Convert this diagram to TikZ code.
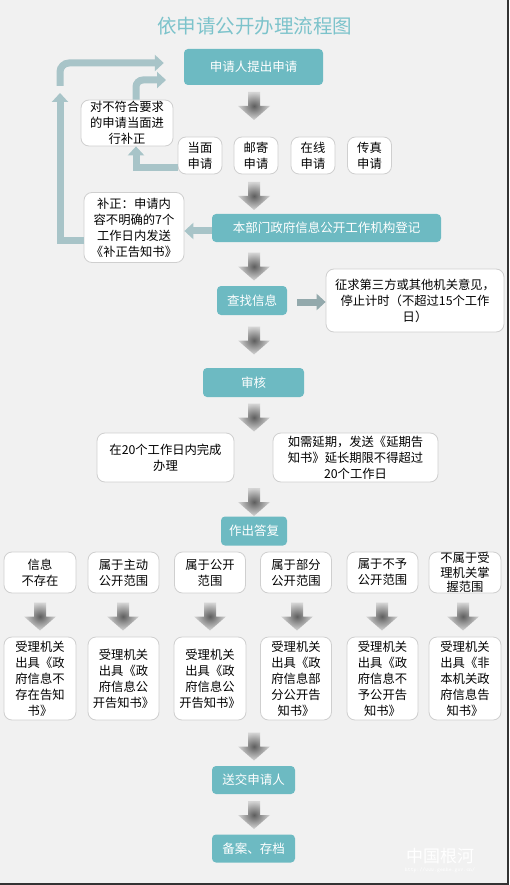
\documentclass[tikz,border=0pt]{standalone}
\usepackage{fontspec}
\setmainfont{Noto Sans CJK SC}
\usetikzlibrary{arrows.meta,calc}
\definecolor{bg}{HTML}{F1F1F1}
\definecolor{teal1}{HTML}{6DBAC2}
\definecolor{titlecol}{HTML}{7CC3CB}
\definecolor{loopcol}{HTML}{A8C4C8}
\definecolor{arrcol}{HTML}{93A9AC}
\definecolor{boxline}{HTML}{CFCFCF}
\definecolor{shdark}{HTML}{5E5E5E}
\definecolor{shlight}{HTML}{D6D6D6}
\tikzset{
  tealbox/.style={fill=teal1, rounded corners=4pt, text=white, font=\fontsize{12.5}{16}\selectfont, inner sep=0pt, align=center},
  whitebox/.style={fill=white, draw=boxline, line width=0.8pt, rounded corners=8pt, text=black, font=\fontsize{12.3}{16}\selectfont, inner sep=0pt, align=center},
  looparrow/.style={draw=loopcol, line width=7pt, -{Triangle[length=9pt,width=16pt]}},
  sidearrow/.style={draw=arrcol, line width=7pt, -{Triangle[length=9pt,width=16pt]}},
  downarr/.pic={\shade[inner color=shdark, outer color=shlight] (-6,-14) -- (6,-14) -- (6,0) -- (16,0) -- (0,14) -- (-16,0) -- (-6,0) -- cycle;}
}
\begin{document}
\begin{tikzpicture}[x=1pt,y=-1pt]
\useasboundingbox (0,0) rectangle (509,885);
\fill[bg] (0,0) rectangle (509,885);
\draw[black!80, line width=1.5pt] (508.2,0) -- (508.2,884.2) -- (0,884.2);

% title
\node[text=titlecol, font=\fontsize{19.5}{22}\selectfont] (title) at (254.5,26) {依申请公开办理流程图};

% main chain
\node[tealbox, minimum width=139pt, minimum height=36pt] (n1) at (253.5,67) {申请人提出申请};
\node[whitebox, minimum width=92pt, minimum height=46pt] (left1) at (127,123) {对不符合要求\\的申请当面进\\行补正};
\node[whitebox, minimum width=44pt, minimum height=37pt] (m1) at (200,155.5) {当面\\申请};
\node[whitebox, minimum width=44pt, minimum height=37pt] (m2) at (256,155.5) {邮寄\\申请};
\node[whitebox, minimum width=44pt, minimum height=37pt] (m3) at (313,155.5) {在线\\申请};
\node[whitebox, minimum width=44pt, minimum height=37pt] (m4) at (369.5,155.5) {传真\\申请};

\node[tealbox, minimum width=229pt, minimum height=28pt] (n2) at (326.5,228) {本部门政府信息公开工作机构登记};
\node[whitebox, minimum width=100pt, minimum height=70pt] (bz) at (134,227.5) {补正：申请内\\容不明确的7个\\工作日内发送\\《补正告知书》};

\node[tealbox, minimum width=70pt, minimum height=29pt] (n3) at (252,300.5) {查找信息};
\node[whitebox, minimum width=178pt, minimum height=63pt] (zq) at (415,300.5) {征求第三方或其他机关意见，\\停止计时（不超过15个工作\\日）};

\node[tealbox, minimum width=101pt, minimum height=29pt] (n4) at (253.5,382.5) {审核};
\node[whitebox, minimum width=137pt, minimum height=49pt] (b20) at (165.5,457.5) {在20个工作日内完成\\办理};
\node[whitebox, minimum width=165pt, minimum height=49pt] (bext) at (355.5,457.5) {如需延期，发送《延期告\\知书》延长期限不得超过\\20个工作日};

\node[tealbox, minimum width=66pt, minimum height=29pt] (n5) at (254,531) {作出答复};

% top row of categories
\node[whitebox, minimum width=72pt, minimum height=41pt] (c1) at (40,572.5) {信息\\不存在};
\node[whitebox, minimum width=71pt, minimum height=41pt] (c2) at (123.5,572.5) {属于主动\\公开范围};
\node[whitebox, minimum width=71pt, minimum height=41pt] (c3) at (210,572.5) {属于公开\\范围};
\node[whitebox, minimum width=71pt, minimum height=41pt] (c4) at (296,572.5) {属于部分\\公开范围};
\node[whitebox, minimum width=71pt, minimum height=41pt] (c5) at (382.5,572.5) {属于不予\\公开范围};
\node[whitebox, minimum width=72pt, minimum height=41pt, font=\fontsize{12.3}{14.5}\selectfont] (c6) at (465,572.5) {不属于受\\理机关掌\\握范围};

% bottom row of notices
\node[whitebox, minimum width=72pt, minimum height=83pt] (d1) at (40,678.5) {受理机关\\出具《政\\府信息不\\存在告知\\书》};
\node[whitebox, minimum width=71pt, minimum height=83pt] (d2) at (123.5,678.5) {受理机关\\出具《政\\府信息公\\开告知书》};
\node[whitebox, minimum width=72pt, minimum height=83pt] (d3) at (210,678.5) {受理机关\\出具《政\\府信息公\\开告知书》};
\node[whitebox, minimum width=71pt, minimum height=83pt] (d4) at (296,678.5) {受理机关\\出具《政\\府信息部\\分公开告\\知书》};
\node[whitebox, minimum width=71pt, minimum height=83pt] (d5) at (382.5,678.5) {受理机关\\出具《政\\府信息不\\予公开告\\知书》};
\node[whitebox, minimum width=72pt, minimum height=83pt] (d6) at (465,678.5) {受理机关\\出具《非\\本机关政\\府信息告\\知书》};

\node[tealbox, minimum width=83pt, minimum height=28pt] (n6) at (253.5,780) {送交申请人};
\node[tealbox, minimum width=83pt, minimum height=28pt] (n7) at (253.5,848.5) {备案、存档};

% gradient down arrows
\pic at (254,106) {downarr};
\pic at (254,196) {downarr};
\pic at (254,266.5) {downarr};
\pic at (254,340.5) {downarr};
\pic at (254,417.5) {downarr};
\pic at (254,502) {downarr};
\foreach \cx in {40,123,210,297,382,463} { \pic at (\cx,616.5) {downarr}; }
\pic at (254,746.5) {downarr};
\pic at (254,815) {downarr};

% loop-back arrows
\draw[looparrow] ([yshift=-13pt]bz.west) -- (60,240.5) -- (60,93);
\draw[looparrow, rounded corners=9pt] (60,86) -- (60,63) -- ($(n1.west)+(-20,-4)$);
\draw[looparrow, rounded corners=7pt] ([xshift=9pt]left1.north) -- (136,80) -- (166,80);
\draw[looparrow] ([yshift=-12pt]m1.west) -- (136,167.5) -- ([xshift=9pt]left1.south);
\draw[looparrow] ([yshift=-3pt]n2.west) -- ([yshift=-3.5pt]bz.east);
\draw[sidearrow] (n3.east) ++(10,1.5) -- ([yshift=-1.5pt]zq.west);

% watermark
\node[text=white, font=\fontsize{17}{17}\selectfont] (wm) at (440,856) {中国根河};
\node[text=white, font=\ttfamily\fontsize{5.5}{6}\selectfont] (wmurl) at (440,870) {http://www.genhe.gov.cn/};
\end{tikzpicture}
\end{document}
